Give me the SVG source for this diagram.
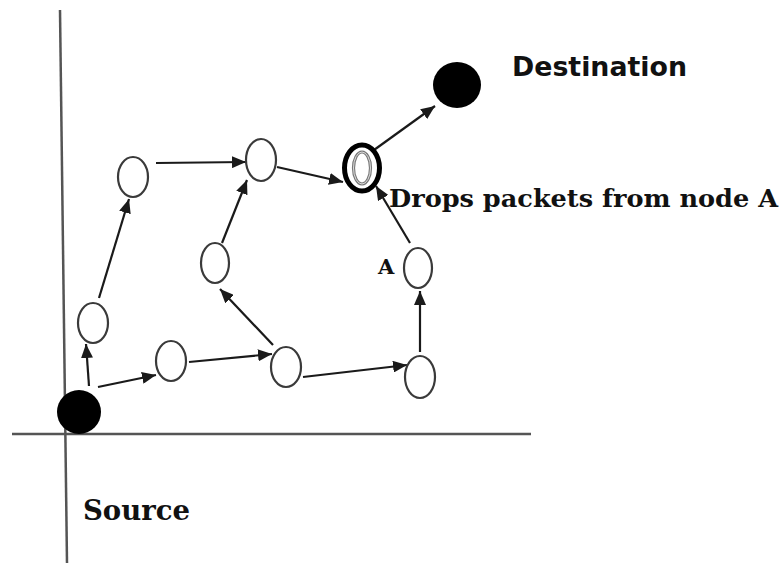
<svg xmlns="http://www.w3.org/2000/svg" width="781" height="565" viewBox="0 0 781 565">
  <style>
    .axis { stroke: #555; stroke-width: 2.5; fill: none; }
    .node { fill: #fff; stroke: #3a3a3a; stroke-width: 2.2; }
    .solid { fill: #000; stroke: none; }
    .edge { stroke: #1a1a1a; stroke-width: 2.2; fill: none; marker-end: url(#arrow); }
    .serif { font-family: "DejaVu Serif", "Liberation Serif", serif; font-weight: bold; fill: #111; }
    .sans { font-family: "DejaVu Sans", "Liberation Sans", sans-serif; font-weight: bold; fill: #111; }
  </style>
  <defs>
    <marker id="arrow" markerUnits="userSpaceOnUse" markerWidth="15" markerHeight="12" refX="14" refY="6" orient="auto">
      <path d="M0,0 L14,6 L0,12 z" fill="#1a1a1a"/>
    </marker>
  </defs>

  <rect width="781" height="565" fill="#fff"/>

  <!-- axes -->
  <g id="axes">
    <line class="axis" x1="60" y1="10" x2="67" y2="563"/>
    <line class="axis" x1="12" y1="434" x2="531" y2="434"/>
  </g>

  <!-- connectors -->
  <g id="edges">
    <line class="edge" x1="89" y1="386" x2="86" y2="344"/>
    <line class="edge" x1="98" y1="387" x2="156" y2="375"/>
    <line class="edge" x1="99" y1="298" x2="129" y2="199"/>
    <line class="edge" x1="156" y1="163" x2="246" y2="162"/>
    <line class="edge" x1="222" y1="243" x2="247" y2="180"/>
    <line class="edge" x1="189" y1="362" x2="272" y2="354"/>
    <line class="edge" x1="273" y1="345" x2="220" y2="289"/>
    <line class="edge" x1="277" y1="167" x2="343" y2="182"/>
    <line class="edge" x1="303" y1="377" x2="407" y2="365"/>
    <line class="edge" x1="420" y1="352" x2="420" y2="291"/>
    <line class="edge" x1="410" y1="243" x2="376" y2="186"/>
    <line class="edge" x1="374" y1="150" x2="435" y2="106"/>
  </g>

  <!-- nodes -->
  <g id="source"><circle class="solid" cx="79" cy="412" r="22"/></g>
  <g id="destination"><ellipse class="solid" cx="457" cy="85" rx="24" ry="23"/></g>
  <g id="n1"><ellipse class="node" cx="93" cy="323" rx="15" ry="20"/></g>
  <g id="n2"><ellipse class="node" cx="171" cy="361" rx="15" ry="20"/></g>
  <g id="n3"><ellipse class="node" cx="286" cy="367" rx="15" ry="20"/></g>
  <g id="n4"><ellipse class="node" cx="420" cy="377" rx="15" ry="21"/></g>
  <g id="nodeA"><ellipse class="node" cx="418" cy="268" rx="14" ry="20"/></g>
  <g id="n6"><ellipse class="node" cx="215" cy="263" rx="14" ry="20"/></g>
  <g id="n7"><ellipse class="node" cx="133" cy="177" rx="15" ry="20"/></g>
  <g id="n8"><ellipse class="node" cx="261" cy="160" rx="15" ry="21"/></g>
  <g id="malicious">
    <ellipse cx="362" cy="168" rx="17.5" ry="23" fill="#fff" stroke="#000" stroke-width="5"/>
    <ellipse cx="362" cy="168" rx="8.5" ry="16" fill="#fff" stroke="#777" stroke-width="3.2"/>
    <ellipse cx="362" cy="168" rx="8.5" ry="16" fill="none" stroke="#ddd" stroke-width="1"/>
  </g>

  <!-- labels -->
  <text class="sans" x="512" y="76" font-size="26" textLength="175" lengthAdjust="spacingAndGlyphs">Destination</text>
  <text class="serif" x="389" y="207" font-size="24" textLength="389" lengthAdjust="spacingAndGlyphs">Drops packets from node A</text>
  <text class="serif" x="378" y="274" font-size="21">A</text>
  <text class="serif" x="83" y="520" font-size="28" textLength="107" lengthAdjust="spacingAndGlyphs">Source</text>
</svg>
